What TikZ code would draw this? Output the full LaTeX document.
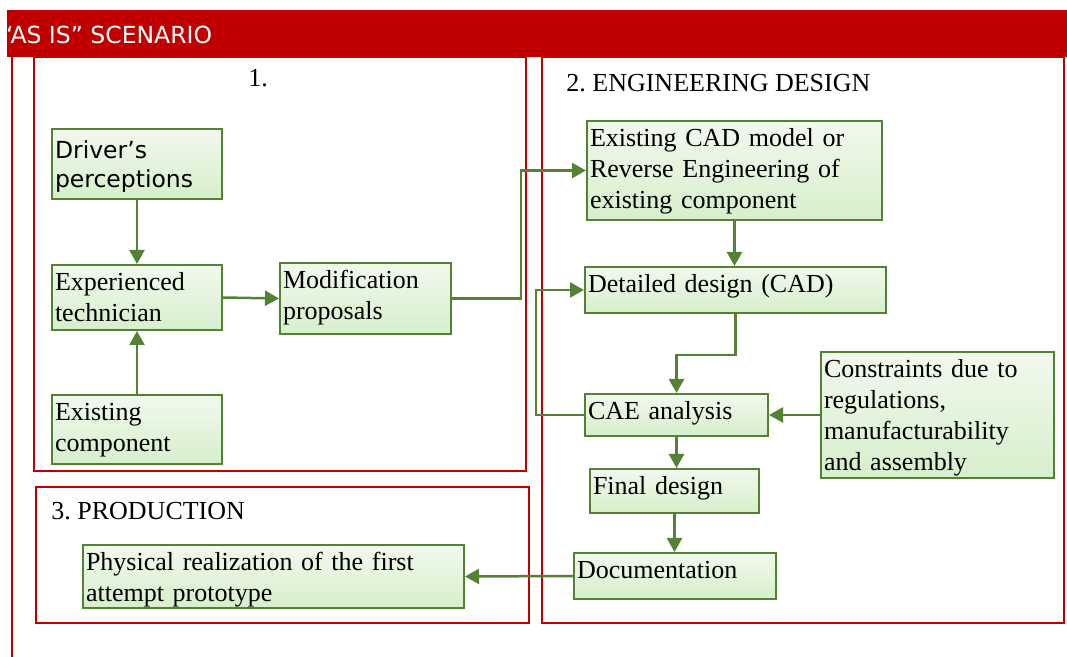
\documentclass[tikz,border=0pt]{standalone}
\usepackage{fontspec}
\setmainfont{Liberation Serif}
\newfontfamily\versans{DejaVu Sans}
\usetikzlibrary{arrows.meta}

\definecolor{asisred}{HTML}{C00000}
\definecolor{boxgreen}{HTML}{548235}
\definecolor{boxtop}{HTML}{F1F9ED}
\definecolor{boxbottom}{HTML}{D6EFCB}

\begin{document}
\frenchspacing
\begin{tikzpicture}[x=0.5pt,y=-0.5pt,
  frame/.style={draw=asisred,line width=1pt},
  stagelabel/.style={anchor=base west,inner sep=0pt,font=\fontsize{13}{15.5}\selectfont},
  stagebox/.style={draw=boxgreen,line width=1pt,top color=boxtop,bottom color=boxbottom,
    anchor=north west,inner xsep=1.5pt,inner ysep=2pt,text height=11pt,align=left,
    font=\fontsize{13}{15.5}\selectfont},
  flow/.style={draw=boxgreen,line width=1.25pt,-{Triangle[length=7pt,width=7.5pt]}}]

\useasboundingbox (0,0) rectangle (1067,657);

% frames of the three stages
\draw[frame] (12,57)--(12,657);
\draw[frame] (34,57) rectangle (526,471);
\draw[frame] (542,57) rectangle (1064,623);
\draw[frame] (36,487) rectangle (529,623);

\fill[asisred] (7,10) rectangle (1067,57);
\node[anchor=base west,inner sep=0pt,text=white,font=\versans\fontsize{11.75}{14}\selectfont] (title) at (1,44) {“AS IS” SCENARIO};

\node[stagelabel] (stage1) at (248,87) {1.};
\node[stagelabel] (stage2) at (566,92) {2. ENGINEERING DESIGN};
\node[stagelabel] (stage3) at (51,520) {3. PRODUCTION};

% stage 1
\node[stagebox,text width=82pt,text height=13pt,text depth=18pt,font=\versans\fontsize{11.75}{14.5}\selectfont] (drv) at (51,128) {Driver’s\\perceptions};
\node[stagebox,text width=82pt,text depth=17.5pt] (exp) at (51,264) {Experienced\\technician};
\node[stagebox,text width=82pt,text depth=19.5pt] (exc) at (51,394) {Existing\\component};
\node[stagebox,text width=82.5pt,text depth=20.5pt] (mod) at (279,262) {Modification\\proposals};

% stage 2
\node[stagebox,text width=144.5pt,text depth=34.5pt] (cad) at (586,120) {Existing CAD model or\\Reverse Engineering of\\existing component};
\node[stagebox,text width=147.5pt,text depth=8pt] (det) at (584,266) {Detailed design (CAD)};
\node[stagebox,text width=88.5pt,text depth=6pt] (cae) at (584,393) {CAE analysis};
\node[stagebox,text width=113.5pt,text depth=48pt] (con) at (820,351) {Constraints due to\\regulations,\\manufacturability\\and assembly};
\node[stagebox,text width=81.5pt,text depth=7pt] (fin) at (589,468) {Final design};
\node[stagebox,text width=98pt,text depth=8pt] (doc) at (573,552) {Documentation};

% stage 3
\node[stagebox,text width=187.5pt,text depth=16.5pt] (phy) at (82,544) {Physical realization of the first\\attempt prototype};

\draw[flow] (drv.south)--(exp.north);
\draw[flow] (exc.north)--(exp.south);
\draw[flow] (exp.east)--(mod.west);
\draw[flow] (mod.east)--++(69,0)|-(cad.west);
\draw[flow] (cad.south)--(cad.south|-det.north);
\draw[flow] (det.south)--++(0,41)-|(cae.north);
\draw[flow] (cae.west)--++(-48,0)|-(det.west);
\draw[flow] (con.west)--(cae.east);
\draw[flow] (cae.south)--(cae.south|-fin.north);
\draw[flow] (fin.south)--(fin.south|-doc.north);
\draw[flow] (doc.west)--(phy.east);

\end{tikzpicture}
\end{document}
